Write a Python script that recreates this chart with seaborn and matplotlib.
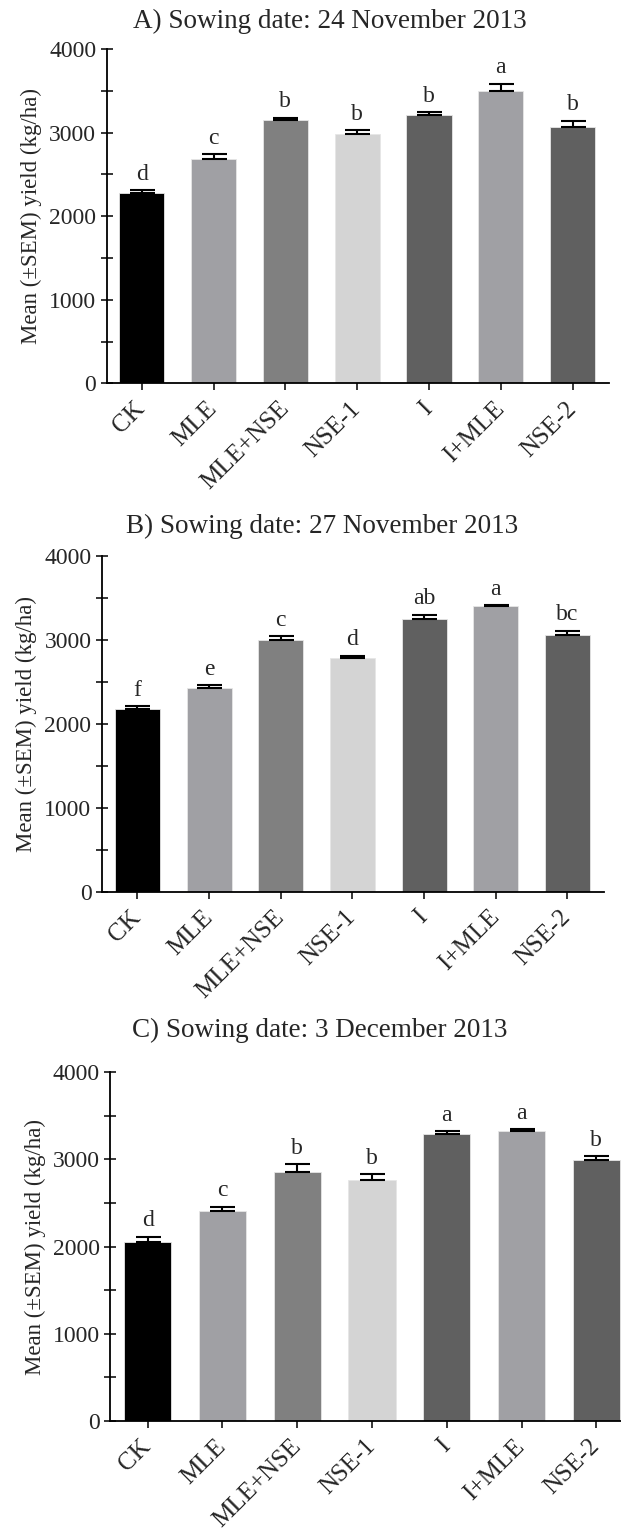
import matplotlib
matplotlib.use("Agg")
import matplotlib.pyplot as plt
import seaborn as sns
import pandas as pd
import numpy as np
from matplotlib.ticker import MultipleLocator

categories = ["CK", "MLE", "MLE+NSE", "NSE-1", "I", "I+MLE", "NSE-2"]
colors = ["#000000", "#a0a0a4", "#808080", "#d4d4d4", "#606060", "#a0a0a4", "#606060"]

titles = ["A) Sowing date: 24 November 2013",
          "B) Sowing date: 27 November 2013",
          "C) Sowing date: 3 December 2013"]

mean_a = [2272, 2683, 3146, 2986, 3210, 3497, 3062]
sem_a = [36, 55, 32, 40, 32, 88, 80]
letters_a = ["d", "c", "b", "b", "b", "a", "b"]

mean_b = [2179, 2421, 2996, 2786, 3243, 3401, 3060]
sem_b = [28, 36, 44, 24, 55, 10, 43]
letters_b = ["f", "e", "c", "d", "ab", "a", "bc"]

mean_c = [2056, 2408, 2859, 2764, 3291, 3322, 2993]
sem_c = [58, 50, 85, 65, 35, 23, 46]
letters_c = ["d", "c", "b", "b", "a", "a", "b"]

sns.set_style("ticks")
plt.rcParams["font.family"] = ["Liberation Serif", "DejaVu Serif"]

W, H = 621, 1536
fig = plt.figure(figsize=(W / 100, H / 100), dpi=100)

# panel layout in pixels: left, right, top, bottom, xlim, title (x, baseline)
panels = [
    dict(mean=mean_a, sem=sem_a, letters=letters_a, title=titles[0],
         box=(106.7, 609.3, 49, 383.3), xlim=(-0.487, 6.51), tpos=(133, 28)),
    dict(mean=mean_b, sem=sem_b, letters=letters_b, title=titles[1],
         box=(101.8, 604, 555.7, 891.7), xlim=(-0.497, 6.51), tpos=(126, 533)),
    dict(mean=mean_c, sem=sem_c, letters=letters_c, title=titles[2],
         box=(110, 621, 1072.3, 1421), xlim=(-0.504, 6.33), tpos=(132, 1037)),
]

for p in panels:
    l, r, t, b = p["box"]
    ax = fig.add_axes([l / W, 1 - b / H, (r - l) / W, (b - t) / H])
    df = pd.DataFrame({"Treatment": categories, "Yield": p["mean"]})
    sns.barplot(data=df, x="Treatment", y="Yield", hue="Treatment",
                palette=colors, order=categories, hue_order=categories,
                width=0.63, legend=False, ax=ax, edgecolor="#e6e6e6", linewidth=0.6,
                errorbar=None)
    xs = np.arange(len(categories))
    ax.errorbar(xs, p["mean"], yerr=[np.zeros(len(categories)), p["sem"]],
                fmt="none", ecolor="black", elinewidth=1.5, capsize=9, capthick=1.5,
                zorder=1)
    for xi, m, s, lt in zip(xs, p["mean"], p["sem"], p["letters"]):
        ax.annotate(lt, (xi, m + s), xytext=(0, 4), textcoords="offset points",
                    ha="center", va="bottom", fontsize=17)
    ax.set_xlim(*p["xlim"])
    ax.set_ylim(0, 4000)
    ax.yaxis.set_major_locator(MultipleLocator(1000))
    ax.yaxis.set_minor_locator(MultipleLocator(500))
    ax.set_xticks(xs)
    ax.set_xticklabels(categories, rotation=45, ha="right", va="center",
                       rotation_mode="anchor", fontsize=18)
    ax.tick_params(axis="y", which="major", direction="inout", length=9, width=1.3,
                   labelsize=17, pad=3)
    ax.tick_params(axis="y", which="minor", direction="inout", length=8, width=1.3)
    ax.tick_params(axis="x", which="major", direction="out", length=5, width=1.3, pad=11)
    for sp in ["top", "right"]:
        ax.spines[sp].set_visible(False)
    for sp in ["left", "bottom"]:
        ax.spines[sp].set_linewidth(1.3)
        ax.spines[sp].set_color("black")
    ax.set_xlabel("")
    ax.set_ylabel("Mean (±SEM) yield (kg/ha)", fontsize=16.5, labelpad=5)
    ax.patch.set_alpha(0)
    fig.text(p["tpos"][0] / W, 1 - p["tpos"][1] / H, p["title"], ha="left",
             va="baseline", fontsize=19.5)

fig.savefig("out.png", dpi=100)
